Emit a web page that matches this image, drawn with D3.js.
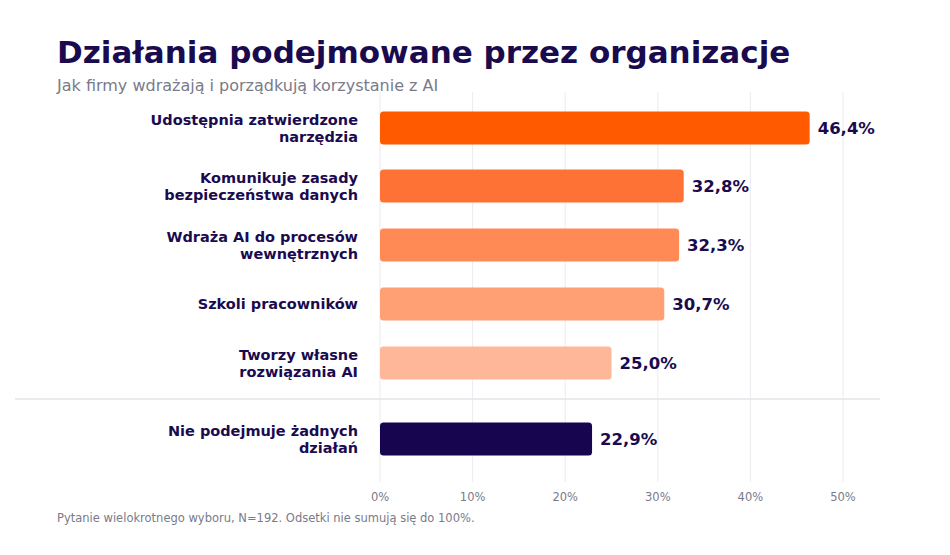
<!DOCTYPE html>
<html><head><meta charset="utf-8">
<script src="https://cdn.jsdelivr.net/npm/d3@7"></script>
<style>body{margin:0;background:#fff}svg{font-family:"DejaVu Sans",sans-serif}</style>
</head><body><svg id="c" width="950" height="555"></svg>
<script>
const categories = [["Udostępnia zatwierdzone","narzędzia"],["Komunikuje zasady","bezpieczeństwa danych"],["Wdraża AI do procesów","wewnętrznych"],["Szkoli pracowników"],["Tworzy własne","rozwiązania AI"],["Nie podejmuje żadnych","działań"]];
const values = [46.4, 32.8, 32.3, 30.7, 25.0, 22.9];
const colors = ["#ff5a00","#ff7236","#ff8a55","#ffa074","#ffb799","#170550"];
const ticks = [0,10,20,30,40,50];
const centers = [128,186,245,304,363,439];

const svg = d3.select("#c");
const x = d3.scaleLinear().domain([0,50]).range([380,843]);
const navy = "#1a0b4f";

svg.append("g").selectAll("line").data(ticks).join("line")
  .attr("x1",d=>x(d)).attr("x2",d=>x(d)).attr("y1",92).attr("y2",482)
  .attr("stroke","#ebebf0").attr("stroke-width",1);
svg.append("line").attr("x1",15).attr("x2",880).attr("y1",399).attr("y2",399)
  .attr("stroke","#e4e4ea").attr("stroke-width",1.5);

svg.append("text").attr("x",57).attr("y",63).attr("font-size",31).attr("font-weight","bold")
  .attr("fill",navy).text("Działania podejmowane przez organizacje");
svg.append("text").attr("x",57).attr("y",91).attr("font-size",16).attr("fill","#7a7a8a")
  .text("Jak firmy wdrażają i porządkują korzystanie z AI");

const g = svg.append("g").selectAll("g").data(values).join("g");
g.append("rect").attr("x",x(0)).attr("y",(d,i)=>centers[i]-16.5)
  .attr("width",d=>x(d)-x(0)).attr("height",33).attr("rx",3.5)
  .attr("fill",(d,i)=>colors[i]);
g.append("text").attr("x",d=>x(d)+8).attr("y",(d,i)=>centers[i]+6)
  .attr("font-size",16.5).attr("font-weight","bold").attr("fill",navy)
  .text(d=>d.toFixed(1).replace(".",",")+"%");
g.append("text").attr("text-anchor","end").attr("font-size",14.5).attr("font-weight","bold").attr("fill",navy)
  .each(function(d,i){
    const lines=categories[i], t=d3.select(this);
    lines.forEach((l,j)=>t.append("tspan").attr("x",358)
      .attr("y",centers[i]+5+(j-(lines.length-1)/2)*17).text(l));
  });

svg.append("g").selectAll("text").data(ticks).join("text")
  .attr("x",d=>x(d)).attr("y",501).attr("text-anchor","middle").attr("font-size",11.5)
  .attr("fill","#7a7a8a").text(d=>d+"%");
svg.append("text").attr("x",57).attr("y",522).attr("font-size",11.5).attr("fill","#7a7a8a")
  .text("Pytanie wielokrotnego wyboru, N=192. Odsetki nie sumują się do 100%.");
</script></body></html>
